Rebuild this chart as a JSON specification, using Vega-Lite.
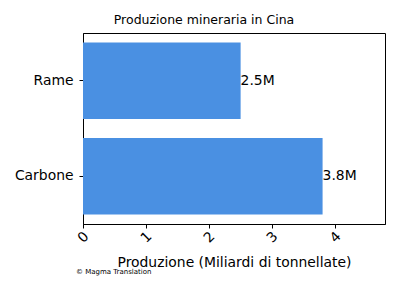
{
  "$schema": "https://vega.github.io/schema/vega-lite/v6.json",
  "width": 302,
  "height": 191,
  "autosize": {"type": "none"},
  "padding": {"left": 83, "top": 33, "right": 15, "bottom": 76},
  "background": "white",
  "title": {
    "text": "Produzione mineraria in Cina",
    "font": "DejaVu Sans",
    "fontSize": 12.5,
    "fontWeight": "normal",
    "color": "black",
    "anchor": "middle",
    "dx": -30,
    "offset": 7
  },
  "config": {
    "view": {"stroke": "black", "strokeWidth": 1},
    "axis": {
      "domainColor": "black",
      "tickColor": "black",
      "labelColor": "black",
      "titleColor": "black",
      "labelFont": "DejaVu Sans",
      "titleFont": "DejaVu Sans",
      "labelFontSize": 13.9,
      "titleFontSize": 13.9,
      "titleFontWeight": "normal",
      "grid": false,
      "tickSize": 4
    }
  },
  "data": {
    "values": [
      {"mineral": "Rame", "production": 2.5, "label": "2.5M"},
      {"mineral": "Carbone", "production": 3.8, "label": "3.8M"}
    ]
  },
  "layer": [
    {
      "mark": {"type": "bar", "color": "#4A90E2"},
      "encoding": {
        "y": {
          "field": "mineral",
          "type": "nominal",
          "sort": ["Rame", "Carbone"],
          "scale": {"paddingInner": 0.2, "paddingOuter": 0.1},
          "axis": {"title": null, "labelPadding": 6}
        },
        "x": {
          "field": "production",
          "type": "quantitative",
          "scale": {"domain": [0, 4.79], "nice": false},
          "axis": {
            "title": "Produzione (Miliardi di tonnellate)",
            "values": [0, 1, 2, 3, 4],
            "format": "d",
            "labelAngle": -45,
            "labelAlign": "center",
            "labelBaseline": "middle",
            "labelPadding": 9,
            "titlePadding": 10
          }
        }
      }
    },
    {
      "mark": {"type": "text", "align": "left", "baseline": "middle", "font": "DejaVu Sans", "fontSize": 13.9, "color": "black"},
      "encoding": {
        "y": {"field": "mineral", "type": "nominal", "sort": ["Rame", "Carbone"]},
        "x": {"field": "production", "type": "quantitative"},
        "text": {"field": "label"}
      }
    },
    {
      "data": {"values": [{"note": "© Magma Translation"}]},
      "mark": {"type": "text", "align": "left", "baseline": "middle", "font": "DejaVu Sans", "fontSize": 7, "color": "black", "x": -7, "y": {"expr": "height + 48"}},
      "encoding": {"text": {"field": "note"}}
    }
  ]
}
